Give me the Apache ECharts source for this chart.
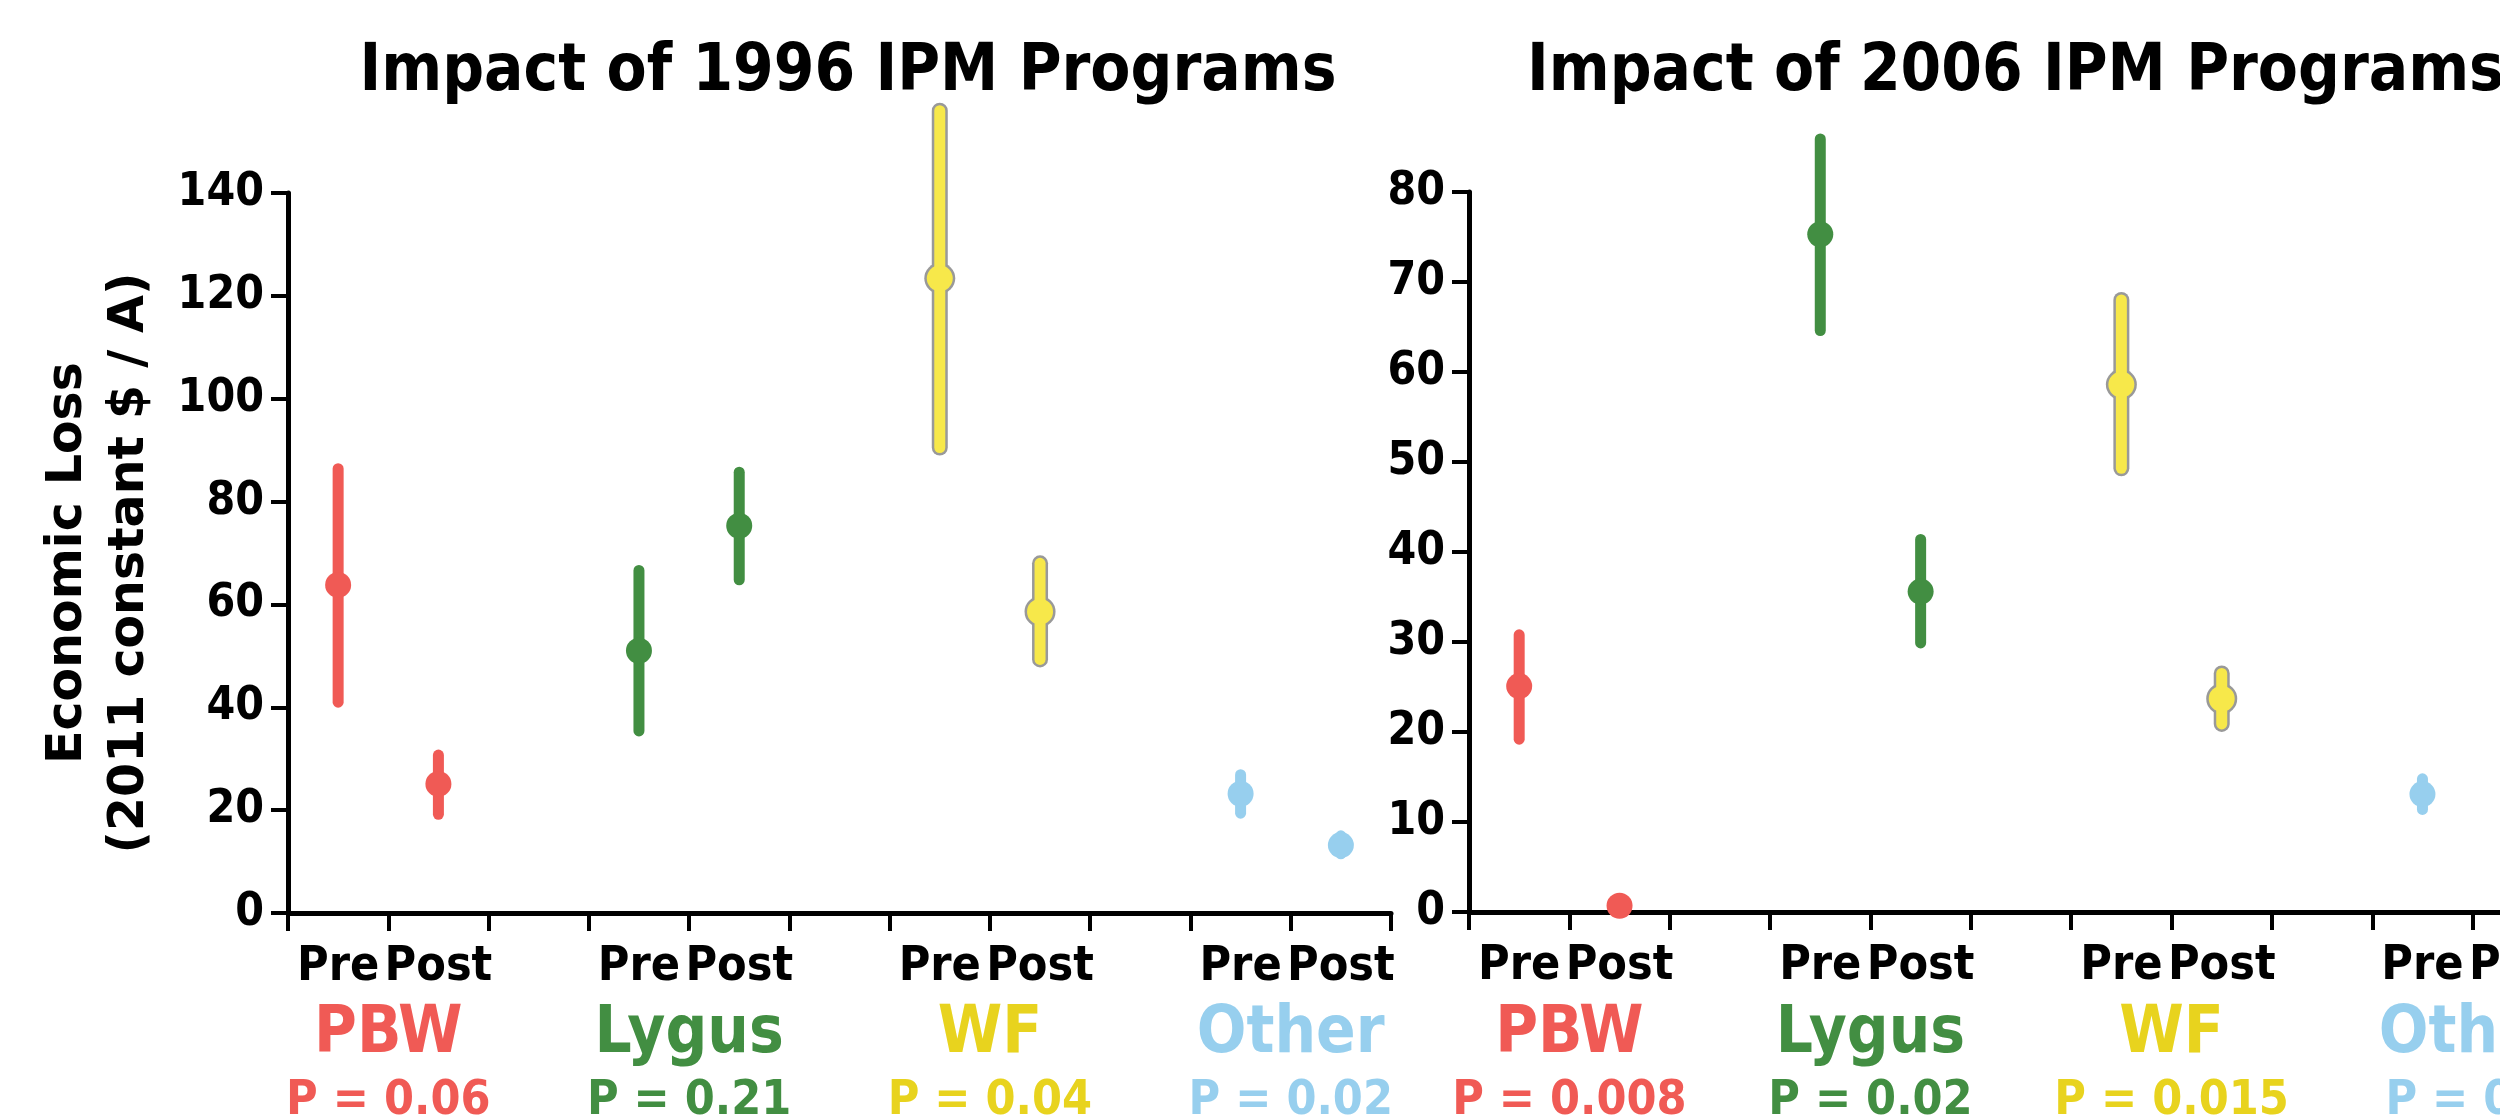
<!DOCTYPE html>
<html><head><meta charset="utf-8">
<script src="https://cdn.jsdelivr.net/npm/echarts@6/dist/echarts.min.js"></script>
<style>html,body{margin:0;padding:0;background:#fff;overflow:hidden}#c{width:2600px;height:1115px}</style>
</head><body><div id="c"></div>
<script>
// ---------- data ----------
const categories = ['Pre', 'Post', '', 'Pre', 'Post', '', 'Pre', 'Post', '', 'Pre', 'Post'];
const pests = ['PBW', 'Lygus', 'WF', 'Other'];
const titles = ['Impact of 1996 IPM Programs', 'Impact of 2006 IPM Programs'];
const pValues1996 = ['P = 0.06', 'P = 0.21', 'P = 0.04', 'P = 0.02'];
const pValues2006 = ['P = 0.008', 'P = 0.02', 'P = 0.015', 'P = 0.0'];
const yAxisName = 'Economic Loss\n(2011 constant $ / A)';

// mean / lower / upper per category (null = empty gap)
const mean1996 = [63.8, 25.1, null, 51.0, 75.3, null, 123.4, 58.6, null, 23.2, 13.2];
const low1996  = [41.0, 19.2, null, 35.4, 64.8, null, 90.5, 49.3, null, 19.4, 11.5];
const high1996 = [86.4, 30.7, null, 66.6, 85.7, null, 156.0, 68.0, null, 26.9, 15.0];

const mean2006 = [25.1, 0.7, null, 75.3, 35.6, null, 58.6, 23.7, null, 13.1, null];
const low2006  = [19.2, 0.7, null, 64.6, 29.9, null, 49.3, 20.9, null, 11.4, null];
const high2006 = [30.8, 0.7, null, 85.9, 41.4, null, 68.0, 26.5, null, 14.8, null];

const yMax1996 = 140, yStep1996 = 20;
const yMax2006 = 80, yStep2006 = 10;

// ---------- styles ----------
const pestColors = ['#F05A55', '#428E42', '#F7E84A', '#97CFEE'];
const pestTextColors = ['#F05A55', '#428E42', '#E8D31E', '#97CFEE'];
const outlineGray = '#999999';
const condFont = "'DejaVu Sans Condensed', 'DejaVu Sans', sans-serif";
const wideFont = "'DejaVu Sans', sans-serif";

function buildData(mean, low, high) {
  const out = [];
  for (let i = 0; i < mean.length; i++) {
    if (mean[i] == null) continue;
    out.push([i, mean[i], low[i], high[i]]);
  }
  return out;
}

function renderItem(params, api) {
  const idx = api.value(0);
  const pest = Math.floor(idx / 3);
  const c = api.coord([idx, api.value(1)]);
  const lo = api.coord([idx, api.value(2)]);
  const hi = api.coord([idx, api.value(3)]);
  const color = pestColors[pest];
  const children = [];
  const hasBar = Math.abs(lo[1] - hi[1]) > 0.5;
  if (pest === 2) {
    if (hasBar) children.push({type: 'rect', shape: {x: c[0] - 8, y: hi[1] - 8, width: 16, height: lo[1] - hi[1] + 16, r: 8}, style: {fill: outlineGray}});
    children.push({type: 'circle', shape: {cx: c[0], cy: c[1], r: 15.5}, style: {fill: outlineGray}});
    if (hasBar) children.push({type: 'rect', shape: {x: c[0] - 5.5, y: hi[1] - 5.5, width: 11, height: lo[1] - hi[1] + 11, r: 5.5}, style: {fill: color}});
    children.push({type: 'circle', shape: {cx: c[0], cy: c[1], r: 13}, style: {fill: color}});
  } else {
    if (hasBar) children.push({type: 'line', shape: {x1: c[0], y1: hi[1], x2: c[0], y2: lo[1]}, style: {stroke: color, lineWidth: 11, lineCap: 'round'}});
    children.push({type: 'circle', shape: {cx: c[0], cy: c[1], r: 13}, style: {fill: color}});
  }
  return {type: 'group', children: children};
}

function xAxisDef(gi) {
  return {
    type: 'category', gridIndex: gi, data: categories, boundaryGap: true,
    axisLine: {lineStyle: {color: '#000', width: 5}},
    axisTick: {show: true, interval: 0, length: 18, alignWithLabel: false, lineStyle: {color: '#000', width: 4}},
    axisLabel: {interval: 0, color: '#000', fontSize: 48, fontWeight: 'bold', fontFamily: condFont, margin: 31},
    splitLine: {show: false}
  };
}
function yAxisDef(gi, max, step) {
  return {
    type: 'value', gridIndex: gi, min: 0, max: max, interval: step,
    axisLine: {show: true, lineStyle: {color: '#000', width: 5}},
    axisTick: {show: true, length: 17, lineStyle: {color: '#000', width: 4}},
    axisLabel: {color: '#000', fontSize: 46, fontWeight: 'bold', fontFamily: condFont, margin: 24},
    splitLine: {show: false}
  };
}

const chart = echarts.init(document.getElementById('c'), null, {renderer: 'canvas'});
chart.setOption({
  backgroundColor: '#fff',
  animation: false,
  grid: [
    {left: 288, top: 193, width: 1103, height: 720},
    {left: 1469, top: 192, width: 1104, height: 720}
  ],
  xAxis: [xAxisDef(0), xAxisDef(1)],
  yAxis: [yAxisDef(0, yMax1996, yStep1996), yAxisDef(1, yMax2006, yStep2006)],
  series: [
    {type: 'custom', xAxisIndex: 0, yAxisIndex: 0, clip: false, renderItem: renderItem, encode: {x: 0, y: 1}, data: buildData(mean1996, low1996, high1996)},
    {type: 'custom', xAxisIndex: 1, yAxisIndex: 1, clip: false, renderItem: renderItem, encode: {x: 0, y: 1}, data: buildData(mean2006, low2006, high2006)}
  ]
});

// labels placed through the axes' own pixel conversion
const graphics = [];
const pLists = [pValues1996, pValues2006];
for (let g = 0; g < 2; g++) {
  for (let p = 0; p < pests.length; p++) {
    const a = chart.convertToPixel({xAxisIndex: g}, p * 3);
    const b = chart.convertToPixel({xAxisIndex: g}, p * 3 + 1);
    const cx = (a + b) / 2;
    graphics.push({type: 'text', x: cx, y: 1035, style: {text: pests[p], fill: pestTextColors[p], font: 'bold 65px ' + condFont, align: 'center', verticalAlign: 'middle'}});
    graphics.push({type: 'text', x: cx, y: 1102, style: {text: pLists[g][p], fill: pestTextColors[p], font: 'bold 48px ' + condFont, align: 'center', verticalAlign: 'middle'}});
  }
}
graphics.push({type: 'text', x: 848, y: 73, style: {text: titles[0], fill: '#000', font: 'bold 65px ' + condFont, align: 'center', verticalAlign: 'middle'}});
graphics.push({type: 'text', x: 1527, y: 73, style: {text: titles[1], fill: '#000', font: 'bold 65px ' + condFont, align: 'left', verticalAlign: 'middle'}});
graphics.push({type: 'text', x: 99, y: 563, rotation: Math.PI / 2, style: {text: yAxisName, fill: '#000', font: 'bold 49px ' + wideFont, align: 'center', verticalAlign: 'middle', lineHeight: 62}});
chart.setOption({graphic: graphics});
</script>
</body></html>
